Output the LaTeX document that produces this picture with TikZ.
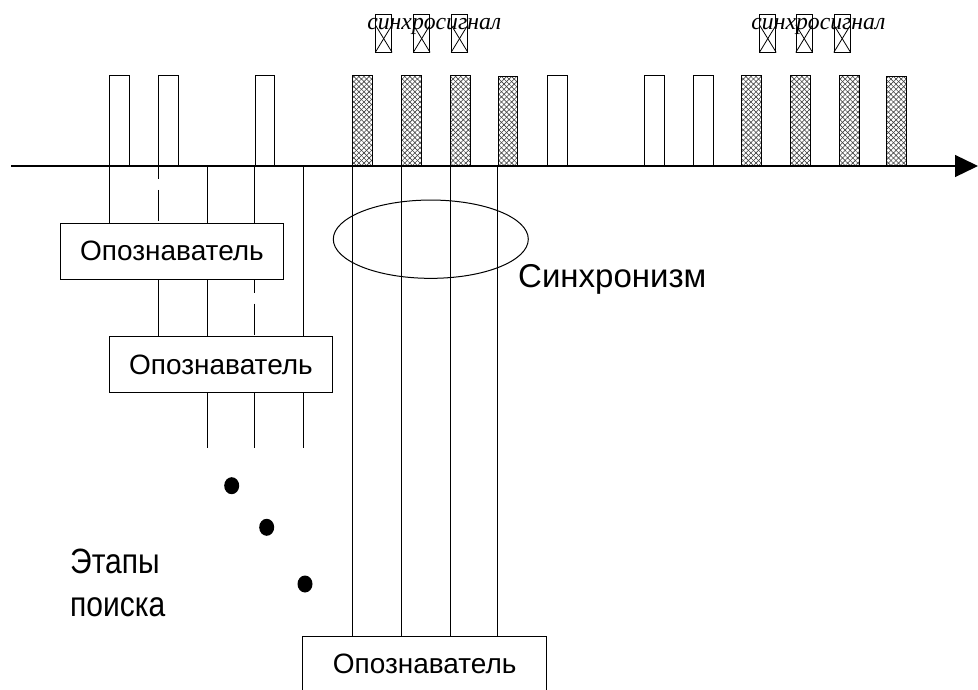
\documentclass[tikz,border=0pt]{standalone}
\usepackage{fontspec}
\setmainfont{Liberation Sans}
\newfontfamily\timesit{Liberation Serif}
\usepackage{tikz}
\usetikzlibrary{shapes.geometric, arrows.meta, patterns.meta, calc}

\begin{document}
\begin{tikzpicture}[x=1pt, y=-1pt,
    pulse/.style={rectangle, draw, line width=1pt, minimum width=19.5pt,
                  minimum height=90pt, inner sep=0pt, anchor=south west},
    hatch/.style={pulse, preaction={pattern={Lines[angle=45,distance=3.6pt,line width=0.6pt]}, pattern color=black!75},
                  pattern={Lines[angle=-45,distance=3.6pt,line width=0.6pt]}, pattern color=black!75},
    syncbox/.style={rectangle, draw, line width=0.8pt, minimum width=16pt,
                    minimum height=38pt, inner sep=0pt},
    siglbl/.style={anchor=base, inner sep=0pt, font=\timesit\itshape\fontsize{23.7}{24}\selectfont},
    idbox/.style={rectangle, draw, line width=1pt, minimum height=55.7pt,
                  inner sep=0pt, font=\fontsize{28}{28}\selectfont},
    lbl/.style={anchor=base west, inner sep=0pt, font=\fontsize{33}{33}\selectfont},
    dot/.style={ellipse, fill=black, minimum width=15pt, minimum height=17pt, inner sep=0pt},
    link/.style={line width=1pt},
    dashlink/.style={link, dash pattern=on 13pt off 11pt on 31pt off 4pt},
    axis/.style={-{Triangle[length=23pt,width=22pt]}, line width=1.3pt},
]
    \useasboundingbox (0,0) rectangle (978,690);
    \clip (0,0) rectangle (978,690);

    % sync signal marks
    \node[syncbox] (s1) at (383.7,33) {};
    \node[syncbox] (s2) at (421.7,33) {};
    \node[syncbox] (s3) at (459.5,33) {};
    \node[syncbox] (s4) at (767.8,33) {};
    \node[syncbox] (s5) at (804.2,33) {};
    \node[syncbox] (s6) at (842.2,33) {};
    \foreach \s in {s1,s2,s3,s4,s5,s6} {
        \draw[line width=0.8pt] ($(\s.west)!0.42!(\s.north west)$) -- (\s.south east);
        \draw[line width=0.8pt] ($(\s.east)!0.42!(\s.north east)$) -- (\s.south west);
    }
    \node[siglbl] (sig1) at (434.3,29.5) {синхросигнал};
    \node[siglbl] (sig2) at (818.4,29.5) {синхросигнал};

    % pulses
    \node[pulse] (p1) at (109.3,166) {};
    \node[pulse] (p2) at (158.3,166) {};
    \node[pulse] (p3) at (254.7,166) {};
    \node[hatch] (h1) at (352.3,166) {};
    \node[hatch] (h2) at (401,166) {};
    \node[hatch] (h3) at (450,166) {};
    \node[hatch] (h4) at (497.7,167.3) {};
    \node[pulse] (p4) at (547.3,166) {};
    \node[pulse] (p5) at (644.3,166) {};
    \node[pulse] (p6) at (693,166) {};
    \node[hatch] (h5) at (741.3,166) {};
    \node[hatch] (h6) at (790.3,166) {};
    \node[hatch] (h7) at (839,166) {};
    \node[hatch] (h8) at (886.3,167.3) {};

    \coordinate (ax0) at (11,166);
    \coordinate (ax1) at (978,166);
    \draw[axis] (ax0) -- (ax1);

    % search stages
    \node[idbox, minimum width=222.6pt] (id1) at (172,251.2) {Опознаватель};
    \node[idbox, minimum width=223.4pt] (id2) at (221,364.5) {Опознаватель};
    \node[idbox, minimum width=244pt] (id3) at (424.7,664) {Опознаватель};

    \coordinate (c3) at (207,166);
    \coordinate (c5) at (303.3,166);
    \coordinate (low) at (0,448);

    \draw[link] (p1.south west) -- (p1.south west |- id1.north);
    \draw[dashlink] (p2.south west) -- (p2.south west |- id1.north);
    \draw[link] (c3) -- (c3 |- id1.north);
    \draw[link] (p3.south west) -- (p3.south west |- id1.north);
    \draw[link] (c5) -- (c5 |- id2.north);

    \draw[link] (p2.south west |- id1.south) -- (p2.south west |- id2.north);
    \draw[link] (c3 |- id1.south) -- (c3 |- id2.north);
    \draw[dashlink] (p3.south west |- id1.south) -- (p3.south west |- id2.north);

    \draw[link] (c3 |- id2.south) -- (c3 |- low);
    \draw[link] (p3.south west |- id2.south) -- (p3.south west |- low);
    \draw[link] (c5 |- id2.south) -- (c5 |- low);

    \draw[link] (h1.south west) -- (h1.south west |- id3.north);
    \draw[link] (h2.south west) -- (h2.south west |- id3.north);
    \draw[link] (h3.south west) -- (h3.south west |- id3.north);
    \draw[link] (h4.south west) -- (h4.south west |- id3.north);

    % synchronism
    \node[ellipse, draw, line width=1pt, minimum width=195pt, minimum height=78.3pt,
          inner sep=0pt] (sync) at (430.8,239.2) {};
    \node[lbl] (synclbl) at (518,287.7) {Синхронизм};

    \node[dot] (d1) at (231.7,485.7) {};
    \node[dot] (d2) at (266.7,527.3) {};
    \node[dot] (d3) at (305,584) {};

    \node[lbl, font=\fontsize{30}{30}\selectfont] (steps1) at (70,573.3) {\scalebox{1}[1.17]{Этапы}};
    \node[lbl, font=\fontsize{30}{30}\selectfont] (steps2) at (70,616.7) {\scalebox{1}[1.17]{поиска}};
\end{tikzpicture}
\end{document}
